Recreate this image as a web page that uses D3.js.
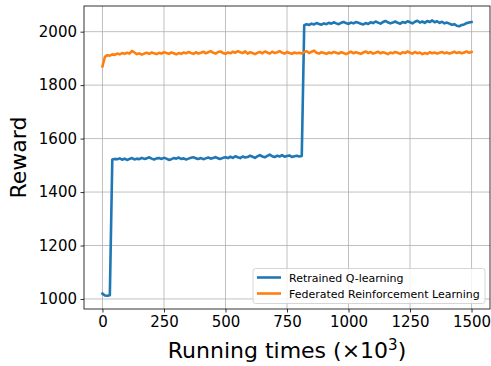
<!DOCTYPE html>
<html>
<head>
<meta charset="utf-8">
<script src="https://cdn.jsdelivr.net/npm/d3@7"></script>
<style>
  body { margin: 0; background: #fff; }
  text { font-family: "DejaVu Sans", sans-serif; fill: #000; }
</style>
</head>
<body>
<div id="chart"></div>
<script>
// running times (x10^3), one sample every 10
var step = 10;
var xTicks = [0, 250, 500, 750, 1000, 1250, 1500];
var yTicks = [1000, 1200, 1400, 1600, 1800, 2000];
var seriesNames = ["Retrained Q-learning", "Federated Reinforcement Learning"];

var retrained = [
  1020,1013,1012,1014,1522,1524,1523,1526,1521,1525,
  1520,1524,1527,1522,1525,1523,1528,1524,1526,1530,
  1525,1522,1526,1527,1524,1528,1525,1520,1523,1527,
  1525,1529,1524,1526,1522,1525,1528,1530,1526,1524,
  1527,1523,1526,1529,1525,1527,1531,1526,1524,1528,
  1530,1527,1532,1528,1534,1530,1527,1533,1529,1531,
  1536,1532,1528,1534,1538,1533,1530,1535,1540,1534,
  1531,1536,1533,1538,1532,1535,1537,1531,1534,1536,
  1533,1535,2024,2028,2025,2030,2027,2032,2029,2026,
  2031,2028,2033,2030,2035,2031,2028,2033,2036,2032,
  2029,2034,2031,2036,2033,2030,2027,2032,2029,2035,
  2032,2038,2034,2030,2036,2040,2035,2031,2034,2038,
  2033,2030,2036,2033,2039,2035,2031,2037,2041,2034,
  2038,2033,2040,2036,2042,2035,2039,2033,2037,2031,
  2034,2030,2026,2028,2022,2020,2025,2027,2032,2034,
  2036
];

var federated = [
  1870,1906,1912,1910,1915,1913,1918,1915,1920,1917,
  1921,1918,1928,1922,1916,1919,1914,1918,1921,1917,
  1922,1919,1916,1921,1918,1923,1920,1917,1922,1919,
  1915,1920,1917,1922,1919,1924,1920,1917,1923,1918,
  1921,1925,1919,1923,1927,1921,1918,1924,1926,1920,
  1917,1922,1919,1925,1921,1927,1923,1920,1926,1918,
  1923,1920,1916,1921,1924,1919,1926,1922,1918,1925,
  1920,1923,1927,1921,1918,1924,1920,1917,1922,1919,
  1921,1918,1924,1927,1920,1925,1929,1921,1918,1923,
  1920,1917,1922,1919,1924,1921,1918,1923,1920,1916,
  1921,1925,1919,1923,1920,1917,1922,1926,1920,1924,
  1918,1921,1925,1919,1923,1920,1916,1922,1919,1924,
  1921,1917,1923,1920,1926,1921,1918,1924,1919,1922,
  1916,1920,1917,1923,1919,1922,1918,1921,1924,1919,
  1922,1918,1921,1925,1920,1923,1919,1922,1926,1921,
  1924
];

var colors = ["#1f77b4", "#ff7f0e"];

var W = 491, H = 366;
var mLeft = 84, mRight = 490, mTop = 6, mBottom = 309;

var svg = d3.select("#chart").append("svg")
  .attr("width", W).attr("height", H);

var x = d3.scaleLinear().domain([-75, 1575]).range([mLeft, mRight]);
var y = d3.scaleLinear().domain([962.5, 2096]).range([mBottom, mTop]);

// grid
var grid = svg.append("g").attr("class", "grid");
grid.selectAll("line.gx").data(xTicks).enter().append("line")
  .attr("x1", d => x(d)).attr("x2", d => x(d))
  .attr("y1", mTop).attr("y2", mBottom)
  .attr("stroke", "#b0b0b0").attr("stroke-width", 0.8);
grid.selectAll("line.gy").data(yTicks).enter().append("line")
  .attr("y1", d => y(d)).attr("y2", d => y(d))
  .attr("x1", mLeft).attr("x2", mRight)
  .attr("stroke", "#b0b0b0").attr("stroke-width", 0.8);

// lines
var line = d3.line()
  .x((d, i) => x(i * step))
  .y(d => y(d));

[retrained, federated].forEach(function(s, k) {
  svg.append("path")
    .datum(s)
    .attr("fill", "none")
    .attr("stroke", colors[k])
    .attr("stroke-width", 2.6)
    .attr("stroke-linejoin", "round")
    .attr("stroke-linecap", "square")
    .attr("d", line);
});

// axes
var xAxis = svg.append("g")
  .attr("transform", "translate(0," + mBottom + ")")
  .call(d3.axisBottom(x).tickValues(xTicks).tickFormat(d3.format("d"))
    .tickSize(3.5).tickSizeOuter(0).tickPadding(3.5));
var yAxis = svg.append("g")
  .attr("transform", "translate(" + mLeft + ",0)")
  .call(d3.axisLeft(y).tickValues(yTicks).tickFormat(d3.format("d"))
    .tickSize(3.5).tickSizeOuter(0).tickPadding(3.5));

[xAxis, yAxis].forEach(function(a) {
  a.select(".domain").remove();
  a.selectAll(".tick line").attr("stroke", "#000").attr("stroke-width", 0.8);
  a.selectAll(".tick text")
    .attr("fill", "#000")
    .style("font-family", "DejaVu Sans")
    .style("font-size", "15px");
});

// frame
svg.append("rect")
  .attr("x", mLeft).attr("y", mTop)
  .attr("width", mRight - mLeft).attr("height", mBottom - mTop)
  .attr("fill", "none").attr("stroke", "#000").attr("stroke-width", 0.8);

// axis labels
var xl = svg.append("text")
  .attr("x", (mLeft + mRight) / 2).attr("y", 358)
  .attr("text-anchor", "middle")
  .style("font-size", "22px");
xl.append("tspan").text("Running times (\u00d710");
xl.append("tspan").text("3").attr("dy", -8).style("font-size", "15px");
xl.append("tspan").text(")").attr("dy", 8);

svg.append("text")
  .attr("transform", "translate(26," + ((mTop + mBottom) / 2) + ") rotate(-90)")
  .attr("text-anchor", "middle")
  .style("font-size", "22px")
  .text("Reward");

// legend
var lg = svg.append("g");
lg.append("rect")
  .attr("x", 253).attr("y", 268.5)
  .attr("width", 232).attr("height", 35)
  .attr("rx", 2.5)
  .attr("fill", "#fff").attr("fill-opacity", 0.8)
  .attr("stroke", "#cccccc").attr("stroke-width", 0.8);

seriesNames.forEach(function(name, k) {
  var yy = 277.5 + k * 16;
  lg.append("line")
    .attr("x1", 257).attr("x2", 281)
    .attr("y1", yy).attr("y2", yy)
    .attr("stroke", colors[k]).attr("stroke-width", 2.6);
  lg.append("text")
    .attr("x", 289).attr("y", yy + 4)
    .style("font-size", "11px")
    .text(name);
});
</script>
</body>
</html>
